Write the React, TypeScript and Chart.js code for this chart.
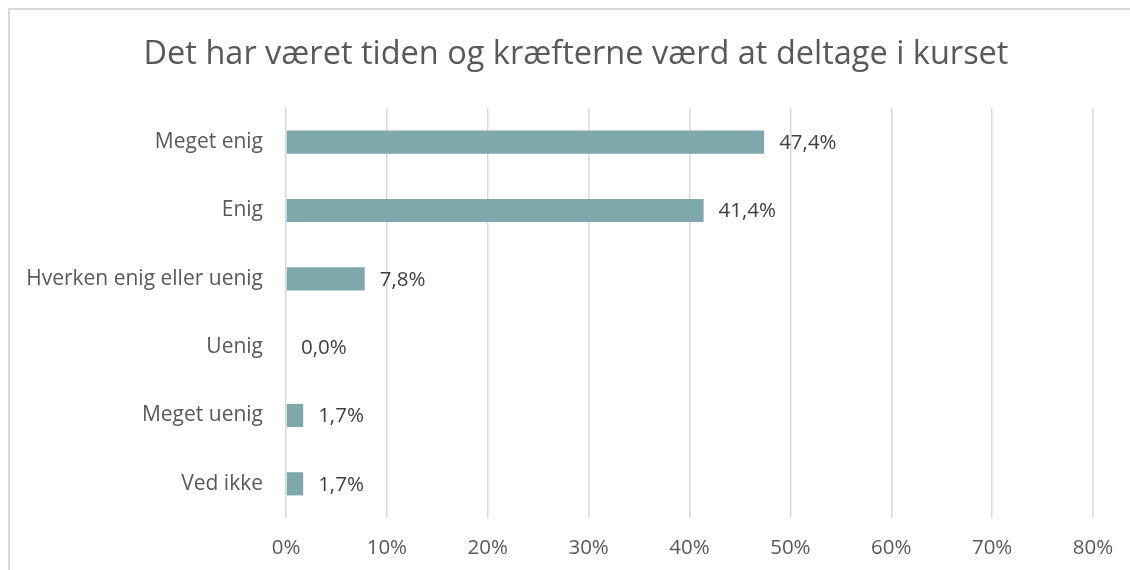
import React, { useEffect, useRef } from "react";
import { Chart, registerables } from "chart.js";

Chart.register(...registerables);

const title = "Det har været tiden og kræfterne værd at deltage i kurset";
const categories = ["Meget enig", "Enig", "Hverken enig eller uenig", "Uenig", "Meget uenig", "Ved ikke"];
const values = [47.4, 41.4, 7.8, 0.0, 1.7, 1.7];
const xTicks = [0, 10, 20, 30, 40, 50, 60, 70, 80];

const FONT = "'Open Sans', sans-serif";

const dataLabelPlugin = {
  id: "dataLabels",
  afterDatasetsDraw(chart: any) {
    const ctx = chart.ctx;
    const meta = chart.getDatasetMeta(0);
    ctx.save();
    ctx.font = `20.5px ${FONT}`;
    ctx.fillStyle = "#404040";
    ctx.textAlign = "left";
    ctx.textBaseline = "middle";
    meta.data.forEach((bar: any, i: number) => {
      const txt = values[i].toFixed(1).replace(".", ",") + "%";
      ctx.fillText(txt, bar.x + 15, bar.y + 1);
    });
    ctx.restore();
  },
};

const titlePlugin = {
  id: "centeredTitle",
  afterDraw(chart: any) {
    const ctx = chart.ctx;
    ctx.save();
    ctx.font = `32.5px ${FONT}`;
    ctx.fillStyle = "#595959";
    ctx.textAlign = "center";
    ctx.textBaseline = "middle";
    ctx.fillText(title, chart.width / 2, 44.5);
    ctx.restore();
  },
};

export default function App() {
  const ref = useRef<HTMLCanvasElement>(null);
  useEffect(() => {
    if (!ref.current) return;
    const chart = new Chart(ref.current, {
      type: "bar",
      data: {
        labels: categories,
        datasets: [
          {
            data: values,
            backgroundColor: "#7fa8ad",
            categoryPercentage: 1,
            barPercentage: 0.34,
          },
        ],
      },
      options: {
        indexAxis: "y",
        animation: false,
        responsive: false,
        maintainAspectRatio: false,
        layout: { padding: { left: 0, right: 49, top: 98, bottom: 0 } },
        plugins: {
          legend: { display: false },
          tooltip: { enabled: false },
          title: { display: false },
        },
        scales: {
          x: {
            min: 0,
            max: 80,
            afterBuildTicks: (scale: any) => {
              scale.ticks = xTicks.map((v) => ({ value: v }));
            },
            afterFit: (scale: any) => {
              scale.height = 62;
            },
            ticks: {
              callback: (v: any) => v + "%",
              color: "#595959",
              font: { family: FONT, size: 20.5 },
              padding: 18,
              maxRotation: 0,
            },
            grid: { color: "#d9d9d9", lineWidth: 1.5, drawTicks: false },
            border: { display: false },
          },
          y: {
            afterFit: (scale: any) => {
              scale.width = 276;
            },
            ticks: {
              color: "#595959",
              font: { family: FONT, size: 21 },
              padding: 23,
            },
            grid: { display: false, drawTicks: false },
            border: { display: false },
          },
        },
      },
      plugins: [dataLabelPlugin, titlePlugin],
    });
    return () => chart.destroy();
  }, []);
  return (
    <div
      style={{
        position: "fixed",
        left: 8,
        top: 8,
        width: 1132,
        height: 570,
        border: "2px solid #d9d9d9",
        background: "#fff",
      }}
    >
      <canvas ref={ref} width={1132} height={570} style={{ display: "block" }} />
    </div>
  );
}
